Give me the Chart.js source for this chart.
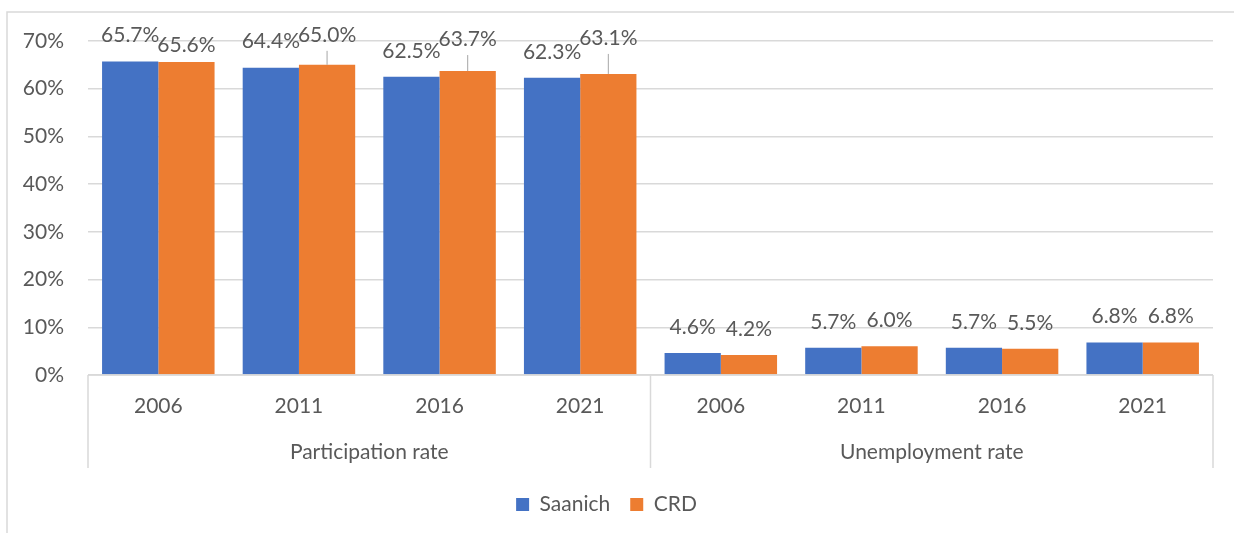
<!DOCTYPE html>
<html>
<head>
<meta charset="utf-8">
<script src="https://cdn.jsdelivr.net/npm/chart.js@4"></script>
<style>
  html, body { margin: 0; padding: 0; background: #fff; }
  #wrap { width: 1234px; height: 533px; }
</style>
</head>
<body>
<div id="wrap"><canvas id="chartRates" width="1234" height="533"></canvas></div>
<script>
// data
const years = ['2006', '2011', '2016', '2021', '2006', '2011', '2016', '2021'];
const groups = ['Participation rate', 'Unemployment rate'];
const saanich = [65.7, 64.4, 62.5, 62.3, 4.6, 5.7, 5.7, 6.8];
const crd = [65.6, 65.0, 63.7, 63.1, 4.2, 6.0, 5.5, 6.8];
const yTicks = [0, 10, 20, 30, 40, 50, 60, 70];

// excel moved some of the CRD labels around so they don't collide
const crdLabelNudge = [9, -4, -6, -10, 0, 0, 0, 0];

const FONT = 'Lato, "Open Sans", sans-serif';
const GREY = '#595959';
const LINE = '#d9d9d9';

const labelsPlugin = {
  id: 'labelsAndAxis',
  afterDatasetsDraw(chart) {
    const ctx = chart.ctx;
    ctx.save();
    ctx.font = '21px ' + FONT;
    ctx.fillStyle = GREY;
    ctx.textAlign = 'center';
    ctx.textBaseline = 'middle';
    chart.data.datasets.forEach((ds, di) => {
      chart.getDatasetMeta(di).data.forEach((bar, i) => {
        const nudge = di === 1 ? crdLabelNudge[i] : 0;
        const ly = bar.y - 26 + nudge;
        ctx.fillText(ds.data[i].toFixed(1) + '%', bar.x, ly);
        if (nudge < 0) {
          ctx.strokeStyle = '#a6a6a6';
          ctx.lineWidth = 1;
          ctx.beginPath();
          ctx.moveTo(bar.x, ly + 16);
          ctx.lineTo(bar.x, bar.y);
          ctx.stroke();
        }
      });
    });
    ctx.restore();
  },
  afterDraw(chart) {
    const ctx = chart.ctx;
    const a = chart.chartArea;
    const x = chart.scales.x;
    ctx.save();
    ctx.strokeStyle = LINE;
    ctx.lineWidth = 1.5;
    // outer frame (right and bottom fall outside the window)
    ctx.beginPath();
    ctx.moveTo(7, 533);
    ctx.lineTo(7, 12);
    ctx.lineTo(1234, 12);
    ctx.stroke();
    // category axis line + group separators
    const half = years.length / 2;
    const mid = (x.getPixelForValue(half - 1) + x.getPixelForValue(half)) / 2;
    ctx.beginPath();
    ctx.moveTo(a.left, a.bottom);
    ctx.lineTo(a.right, a.bottom);
    [a.left, mid, a.right].forEach(px => {
      ctx.moveTo(px, a.bottom);
      ctx.lineTo(px, a.bottom + 93);
    });
    ctx.stroke();
    // group labels
    ctx.font = '21px ' + FONT;
    ctx.fillStyle = GREY;
    ctx.textAlign = 'center';
    ctx.textBaseline = 'middle';
    ctx.fillText(groups[0], (a.left + mid) / 2, a.bottom + 77);
    ctx.fillText(groups[1], (mid + a.right) / 2, a.bottom + 77);
    ctx.restore();
  }
};

const ctx = document.getElementById('chartRates').getContext('2d');
const myChart = new Chart(ctx, {
  type: 'bar',
  data: {
    labels: years,
    datasets: [{
      label: 'Saanich',
      data: saanich,
      backgroundColor: '#4472c4',
      borderWidth: 0,
      categoryPercentage: 0.8,
      barPercentage: 1.0
    }, {
      label: 'CRD',
      data: crd,
      backgroundColor: '#ed7d31',
      borderWidth: 0,
      categoryPercentage: 0.8,
      barPercentage: 1.0
    }]
  },
  options: {
    responsive: false,
    animation: false,
    layout: { padding: { top: 41, right: 21, left: 0, bottom: 8 } },
    plugins: {
      tooltip: { enabled: false },
      legend: {
        position: 'bottom',
        labels: {
          font: { family: FONT, size: 21 },
          color: GREY,
          boxWidth: 13,
          boxHeight: 13,
          padding: 20
        }
      }
    },
    scales: {
      x: {
        grid: { display: false },
        border: { display: false },
        ticks: { font: { family: FONT, size: 21 }, color: GREY, padding: 11 },
        afterFit(scale) { scale.height = 99; }
      },
      y: {
        min: 0,
        max: 70,
        afterBuildTicks(scale) { scale.ticks = yTicks.map(v => ({ value: v })); },
        grid: { color: LINE, lineWidth: 1.5, drawTicks: false },
        border: { display: false },
        ticks: {
          font: { family: FONT, size: 21 },
          color: GREY,
          padding: 24,
          callback: v => v + '%'
        },
        afterFit(scale) { scale.width = 88; }
      }
    }
  },
  plugins: [labelsPlugin]
});
</script>
</body>
</html>
